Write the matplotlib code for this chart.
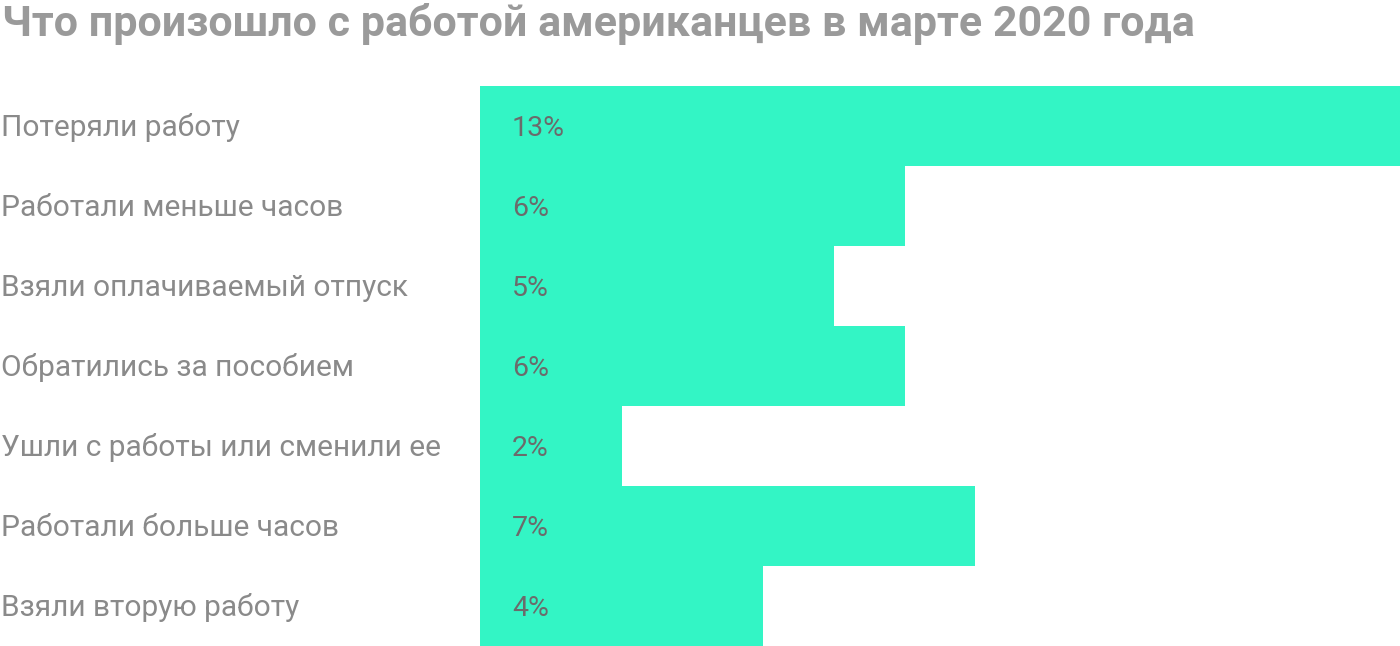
import matplotlib
matplotlib.use("Agg")
import matplotlib.pyplot as plt

categories = ["Потеряли работу", "Работали меньше часов", "Взяли оплачиваемый отпуск",
              "Обратились за пособием", "Ушли с работы или сменили ее",
              "Работали больше часов", "Взяли вторую работу"]
values = [13, 6, 5, 6, 2, 7, 4]
value_labels = ["13%", "6%", "5%", "6%", "2%", "7%", "4%"]

plt.rcParams['font.family'] = ['Roboto', 'DejaVu Sans']
fig = plt.figure(figsize=(14, 6.46), dpi=100)
ax = fig.add_axes([480/1400, 0, 1 - 480/1400, (646-86)/646])
n = len(values)
ys = [n - 1 - i for i in range(n)]
ax.barh(ys, values, height=1.0, left=0, color="#33F5C5", align="edge")
ax.set_xlim(0, 13)
ax.set_ylim(0, n)
ax.axis("off")
for y, lab, cat in zip(ys, value_labels, categories):
    ax.text(0.45, y + 0.47, lab, va="center", ha="left", fontsize=20.5, color="#6b6b6b")
    fig.text(1/1400, (646 - 86 - (n - 1 - y) * 80 - 42) / 646, cat, va="center", ha="left",
             fontsize=21.5, color="#8a8a8a")
fig.text(2/1400, 1 - 24/646, "Что произошло с работой американцев в марте 2020 года",
         va="center", ha="left", fontsize=31, fontweight="bold", color="#9a9a9a")
fig.savefig("out.png", dpi=100)
